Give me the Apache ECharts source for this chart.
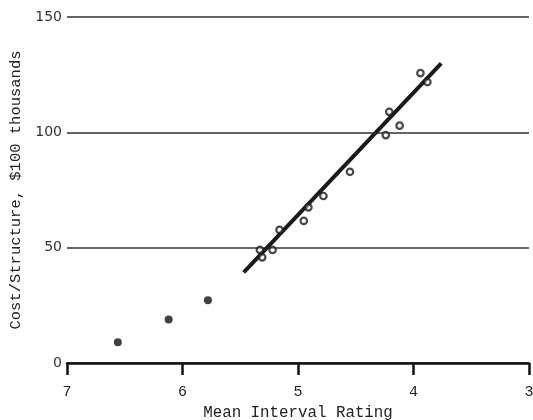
<!DOCTYPE html>
<html>
<head>
<meta charset="utf-8">
<script src="https://cdn.jsdelivr.net/npm/echarts@6/dist/echarts.min.js"></script>
<style>
  html, body { margin: 0; padding: 0; background: #fff; }
  #chart { width: 533px; height: 420px; }
</style>
</head>
<body>
<div id="chart"></div>
<script>
// 数据：拟合范围内的点（空心圆）
const fitPointsX = [5.33, 5.31, 5.22, 5.16, 4.95, 4.91, 4.78, 4.55, 4.24, 4.21, 4.12, 3.94, 3.88];
const fitPointsY = [49.0, 45.8, 49.0, 57.7, 61.6, 67.5, 72.4, 82.9, 98.8, 108.9, 102.9, 125.7, 121.8];
// 拟合范围外的点（实心圆）
const otherPointsX = [6.56, 6.12, 5.78];
const otherPointsY = [9.0, 18.9, 27.2];
// 回归线两端
const lineX = [5.47, 3.76];
const lineY = [39.3, 129.9];

const xTicks = [3, 4, 5, 6, 7];
const yTicks = [0, 50, 100, 150];

function pairs(xs, ys) {
    return xs.map((x, i) => [x, ys[i]]);
}

const chart = echarts.init(document.getElementById('chart'));
const mono = '"Liberation Mono", "DejaVu Sans Mono", monospace';

chart.setOption({
    animation: false,
    grid: { left: 67, right: 4, top: 17, bottom: 57, outerBoundsMode: 'none' },
    xAxis: {
        type: 'value',
        min: xTicks[0],
        max: xTicks[xTicks.length - 1],
        interval: 1,
        inverse: true,
        name: 'Mean Interval Rating',
        nameLocation: 'middle',
        nameGap: 39,
        nameTextStyle: { fontFamily: mono, fontSize: 15.8, color: '#222' },
        axisLine: { show: true, lineStyle: { color: '#111', width: 2.5 } },
        axisTick: { show: true, inside: false, length: 12, lineStyle: { color: '#111', width: 2.5 } },
        axisLabel: { margin: 22, fontFamily: mono, fontSize: 15, color: '#222' },
        splitLine: { show: false }
    },
    yAxis: {
        type: 'value',
        min: yTicks[0],
        max: yTicks[yTicks.length - 1],
        interval: 50,
        name: 'Cost/Structure, $100 thousands',
        nameLocation: 'middle',
        nameGap: 39,
        nameTextStyle: { fontFamily: mono, fontSize: 15.5, color: '#222' },
        axisLine: { show: false },
        axisTick: { show: false },
        axisLabel: { margin: 5, fontFamily: '"DejaVu Sans", sans-serif', fontSize: 14, color: '#333' },
        splitLine: { show: true, lineStyle: { color: '#333', width: 1.5 } }
    },
    series: [
        {
            type: 'line',
            data: pairs(lineX, lineY),
            showSymbol: false,
            symbol: 'none',
            lineStyle: { color: '#1a1a1a', width: 4 },
            z: 3
        },
        {
            type: 'scatter',
            data: pairs(fitPointsX, fitPointsY),
            symbol: 'circle',
            symbolSize: 6.5,
            itemStyle: { color: 'rgba(255,255,255,0.5)', borderColor: '#1a1a1a', borderWidth: 2.2 },
            z: 4
        },
        {
            type: 'scatter',
            data: pairs(otherPointsX, otherPointsY),
            symbol: 'circle',
            symbolSize: 8,
            itemStyle: { color: '#111' },
            z: 4
        }
    ]
});
</script>
</body>
</html>
